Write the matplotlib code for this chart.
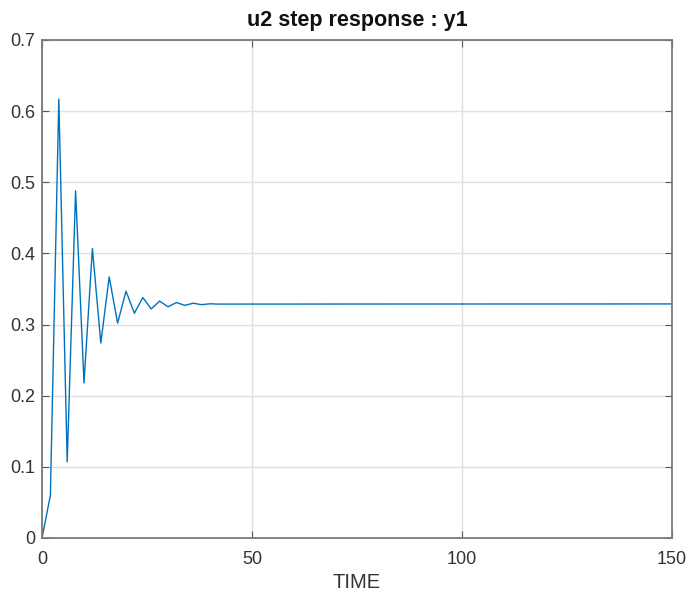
import matplotlib
matplotlib.use("Agg")
import matplotlib.pyplot as plt

plt.rcParams['font.family'] = ['Liberation Sans', 'DejaVu Sans']

time = [0, 2, 4, 6, 8, 10, 12, 14, 16, 18, 20, 22, 24, 26, 28, 30, 32, 34, 36, 38, 40, 42, 150]
y1 = [0.0, 0.06, 0.617, 0.107, 0.488, 0.218, 0.407, 0.274, 0.367, 0.302, 0.347, 0.316,
      0.338, 0.322, 0.333, 0.325, 0.331, 0.327, 0.330, 0.328, 0.3292, 0.3288, 0.329]

xticks = [0, 50, 100, 150]
yticks = [0, 0.1, 0.2, 0.3, 0.4, 0.5, 0.6, 0.7]
ytick_labels = ['0', '0.1', '0.2', '0.3', '0.4', '0.5', '0.6', '0.7']

fig = plt.figure(figsize=(6.91, 5.94), dpi=100)
ax = fig.add_axes([42/691, 1-538/594, (672-42)/691, (538-40)/594])
ax.plot(time, y1, color='#0072BD', lw=1.0)
ax.set_xlim(0, 150)
ax.set_ylim(0, 0.7)
ax.set_xticks(xticks)
ax.set_yticks(yticks)
ax.set_yticklabels(ytick_labels)
ax.grid(True, color='#e0e0e0', lw=1.0)
ax.set_axisbelow(True)
ax.tick_params(direction='in', top=True, right=True, labelsize=13, labelcolor='#333333',
               color='#555555', length=5, width=0.8)
ax.tick_params(axis='x', pad=9)
ax.tick_params(axis='y', pad=5)
for s in ax.spines.values():
    s.set_color('#7a7a7a')
    s.set_linewidth(1.3)
ax.set_xlabel('TIME', fontsize=14.5, color='#333333', labelpad=4)
ax.set_title('u2 step response : y1', fontsize=15.5, fontweight='bold', color='#111111', pad=10)
fig.savefig('out.png', dpi=100)
